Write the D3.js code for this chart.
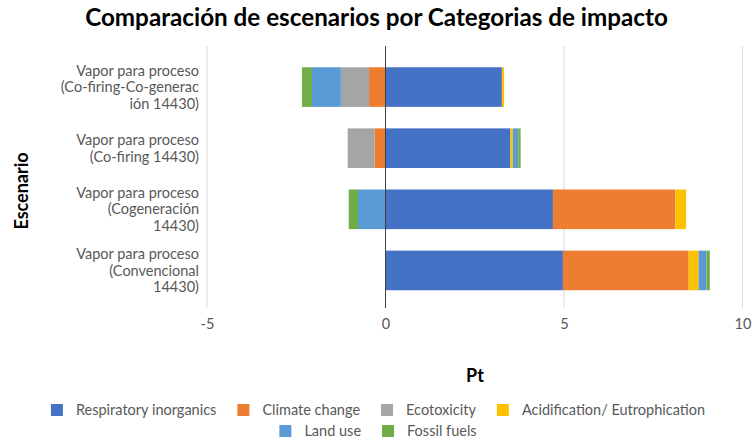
<!DOCTYPE html>
<html>
<head>
<meta charset="utf-8">
<script src="https://cdn.jsdelivr.net/npm/d3@7"></script>
<style>
  html, body { margin: 0; padding: 0; background: #fff; }
  svg { display: block; font-family: Lato, "Open Sans", sans-serif; }
</style>
</head>
<body>
<svg id="chart" width="752" height="441"></svg>
<script>
// Scenarios, top to bottom
const categories = [
  "Vapor para proceso (Co-firing-Co-generación 14430)",
  "Vapor para proceso (Co-firing 14430)",
  "Vapor para proceso (Cogeneración 14430)",
  "Vapor para proceso (Convencional 14430)"
];
// Wrapped label lines for each scenario
const categoryLines = [
  ["Vapor para proceso", "(Co-firing-Co-generac", "ión 14430)"],
  ["Vapor para proceso", "(Co-firing 14430)"],
  ["Vapor para proceso", "(Cogeneración", "14430)"],
  ["Vapor para proceso", "(Convencional", "14430)"]
];

// Impact categories (Pt)
const seriesNames = ["Respiratory inorganics", "Climate change", "Ecotoxicity",
                     "Acidification/ Eutrophication", "Land use", "Fossil fuels"];
const respiratoryInorganics = [3.26, 3.50, 4.69, 4.97];
const climateChange         = [-0.46, -0.31, 3.43, 3.52];
const ecotoxicity           = [-0.79, -0.75, 0, 0];
const acidification         = [0.06, 0.07, 0.30, 0.28];
const landUse               = [-0.81, 0.15, -0.77, 0.22];
const fossilFuels           = [-0.28, 0.065, -0.26, 0.095];

const xTicks = [-5, 0, 5, 10];
const colors = ["#4472C4", "#ED7D31", "#A5A5A5", "#FFC000", "#5B9BD5", "#70AD47"];

const seriesValues = [respiratoryInorganics, climateChange, ecotoxicity,
                      acidification, landUse, fossilFuels];
const rows = categories.map((c, i) => {
  const r = { category: c };
  seriesNames.forEach((s, k) => { r[s] = seriesValues[k][i]; });
  return r;
});

const svg = d3.select("#chart");
const FONT = "Lato, 'Open Sans', sans-serif";

// Font size that makes a string span the given width
function fitSize(str, weight, width) {
  const t = svg.append("text").attr("font-size", 20).attr("font-weight", weight)
    .attr("font-family", FONT).text(str);
  const w = t.node().getComputedTextLength();
  t.remove();
  return 20 * width / w;
}
const labelSize = fitSize("Vapor para proceso", "normal", 123);
const titleSize = fitSize("Comparación de escenarios por Categorias de impacto", "bold", 583);

const x = d3.scaleLinear().domain([-5, 10]).range([207, 742.5]);
const y = d3.scaleBand().domain(categories).range([56.5, 301])
  .paddingInner(0.352).paddingOuter(0.176);
const color = d3.scaleOrdinal().domain(seriesNames).range(colors);

const gridTop = 46, gridBottom = 308;

// Title
svg.append("text")
  .attr("x", 376.5).attr("y", 26)
  .attr("text-anchor", "middle")
  .attr("font-size", titleSize).attr("font-weight", "bold").attr("fill", "#000")
  .text("Comparación de escenarios por Categorias de impacto");

// Vertical gridlines
svg.append("g").selectAll("line")
  .data(xTicks.filter(d => d !== 0))
  .join("line")
  .attr("x1", d => x(d)).attr("x2", d => x(d))
  .attr("y1", gridTop).attr("y2", gridBottom)
  .attr("stroke", "#d9d9d9").attr("stroke-width", 1);

// Stacked bars (positive and negative parts stack away from zero)
const stacked = d3.stack().keys(seriesNames)
  .offset(d3.stackOffsetDiverging)(rows);

svg.append("g").selectAll("g")
  .data(stacked)
  .join("g")
  .attr("fill", d => color(d.key))
  .selectAll("rect")
  .data(d => d)
  .join("rect")
  .attr("x", d => x(Math.min(d[0], d[1])))
  .attr("width", d => Math.abs(x(d[1]) - x(d[0])))
  .attr("y", d => y(d.data.category))
  .attr("height", y.bandwidth());

// Zero axis line
svg.append("line")
  .attr("x1", x(0)).attr("x2", x(0))
  .attr("y1", gridTop).attr("y2", gridBottom)
  .attr("stroke", "#404040").attr("stroke-width", 1);

// X axis labels
const xAxis = svg.append("g")
  .attr("transform", `translate(0,${gridBottom + 2})`)
  .call(d3.axisBottom(x).tickValues(xTicks).tickSize(0).tickPadding(9).tickFormat(d => String(d)));
xAxis.select(".domain").remove();
xAxis.selectAll("text")
  .attr("font-size", labelSize).attr("fill", "#595959")
  .attr("font-family", FONT);

// Y axis labels (wrapped)
const yAxis = svg.append("g")
  .attr("transform", `translate(${x(-5)},0)`)
  .call(d3.axisLeft(y).tickSize(0).tickPadding(8));
yAxis.select(".domain").remove();
const lineH = 16.5;
yAxis.selectAll(".tick text").each(function(d) {
  const t = d3.select(this).text(null)
    .attr("font-size", labelSize).attr("fill", "#595959")
    .attr("font-family", FONT)
    .attr("dy", null);
  const lines = categoryLines[categories.indexOf(d)];
  const off = -(lines.length - 1) / 2 * lineH;
  lines.forEach((ln, k) => {
    t.append("tspan").attr("x", -8)
      .attr("y", off + k * lineH)
      .attr("dy", "0.35em")
      .text(ln);
  });
});

// Axis titles
svg.append("text")
  .attr("x", 475).attr("y", 382)
  .attr("text-anchor", "middle")
  .attr("font-size", 18).attr("font-weight", "bold").attr("fill", "#000")
  .text("Pt");
svg.append("text")
  .attr("transform", "translate(28,191) rotate(-90)")
  .attr("text-anchor", "middle")
  .attr("font-size", 18).attr("font-weight", "bold").attr("fill", "#000")
  .text("Escenario");

// Legend: two centred rows
const legendRows = [seriesNames.slice(0, 4), seriesNames.slice(4)];
const rowY = [410, 431];
const sq = 12, sqGap = 13, itemGap = 21;
legendRows.forEach((items, r) => {
  const g = svg.append("g");
  let cx = 0;
  items.forEach(name => {
    const it = g.append("g").attr("transform", `translate(${cx},0)`);
    it.append("rect").attr("x", 0).attr("y", -sq / 2)
      .attr("width", sq).attr("height", sq).attr("fill", color(name));
    const tx = it.append("text").attr("x", sq + sqGap).attr("y", 0).attr("dy", "0.35em")
      .attr("font-size", labelSize).attr("fill", "#595959").text(name);
    cx += sq + sqGap + tx.node().getComputedTextLength() + itemGap;
  });
  const total = cx - itemGap;
  g.attr("transform", `translate(${378 - total / 2},${rowY[r]})`);
});
</script>
</body>
</html>
